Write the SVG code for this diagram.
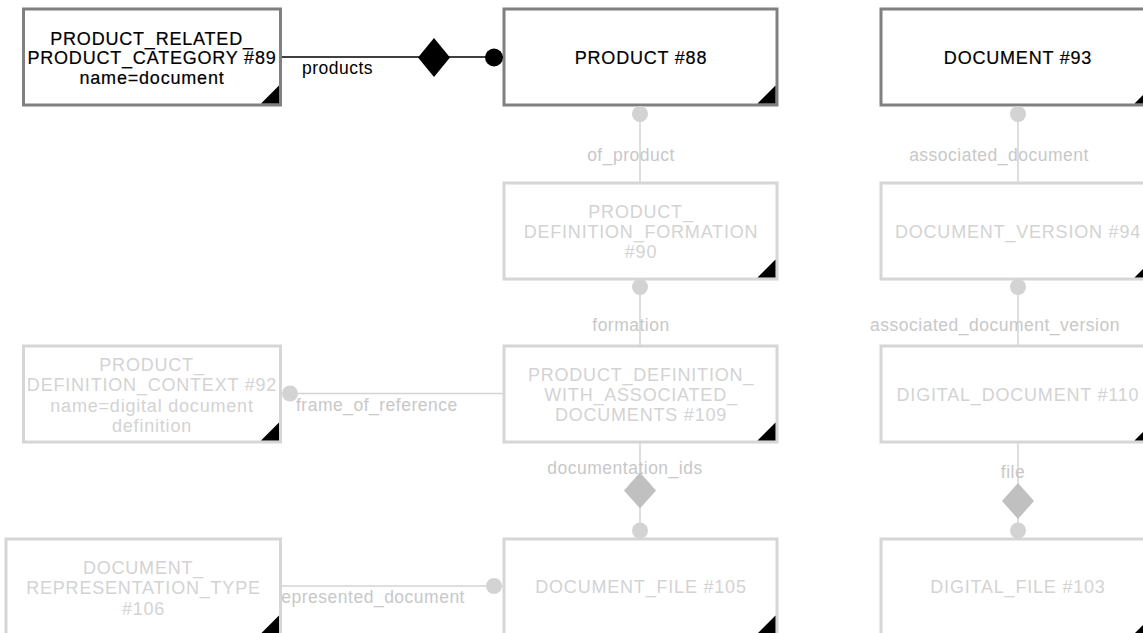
<svg xmlns="http://www.w3.org/2000/svg" width="1143" height="633" viewBox="0 0 1143 633">
<style>
.node rect{fill:#fff;stroke-width:3}
.dark rect{stroke:#808080}
.faded rect{stroke:#d6d6d6}
.corner{fill:#000}
.node text{font-family:"Liberation Sans",Arial,sans-serif;font-size:18px;letter-spacing:0.8px;text-anchor:middle}
.dark text{fill:#000;stroke:#000;stroke-width:0.2px}
.faded text{fill:#d3d3d3}
.ln{stroke:#d3d3d3;stroke-width:1.5;fill:none}
.lnb{stroke:#000;stroke-width:1.5;fill:none}
.lbl{font-family:"Liberation Sans",Arial,sans-serif;font-size:17.5px;letter-spacing:0.5px;fill:#c8c8c8}
.lblb{fill:#000}
.cg{fill:#d3d3d3}
.dg{fill:#c0c0c0}
.cb{fill:#000}
</style>
<rect width="1143" height="633" fill="#fff"/>
<g id="connectors">
  <line class="lnb" x1="281" y1="57" x2="503" y2="57"/>
  <text class="lbl lblb" x="302" y="74">products</text>
  <line class="ln" x1="640" y1="106" x2="640" y2="182"/>
  <text class="lbl" x="631" y="161" text-anchor="middle">of_product</text>
  <line class="ln" x1="1018" y1="106" x2="1018" y2="182"/>
  <text class="lbl" x="999" y="161" text-anchor="middle">associated_document</text>
  <line class="ln" x1="640" y1="280" x2="640" y2="346"/>
  <text class="lbl" x="631" y="331" text-anchor="middle">formation</text>
  <line class="ln" x1="1018" y1="280" x2="1018" y2="346"/>
  <text class="lbl" x="995" y="331" text-anchor="middle">associated_document_version</text>
  <line class="ln" x1="281" y1="393.5" x2="503" y2="393.5"/>
  <text class="lbl" x="296" y="411">frame_of_reference</text>
  <line class="ln" x1="640" y1="442" x2="640" y2="530"/>
  <text class="lbl" x="625" y="474" text-anchor="middle">documentation_ids</text>
  <line class="ln" x1="1018" y1="442" x2="1018" y2="530"/>
  <text class="lbl" x="1013" y="478" text-anchor="middle">file</text>
  <line class="ln" x1="281" y1="586" x2="503" y2="586"/>
  <text class="lbl" x="275" y="603">represented_document</text>
</g>
<g id="node89" class="node dark">
  <rect x="23.5" y="9" width="257" height="96"/>
  <polygon class="corner" points="261,103.5 279,103.5 279,85.5"/>
  <text x="152" y="44.5">PRODUCT_RELATED_</text>
  <text x="152" y="64">PRODUCT_CATEGORY #89</text>
  <text x="152" y="83.5">name=document</text>
</g>
<g id="node88" class="node dark">
  <rect x="504" y="9" width="273" height="96"/>
  <polygon class="corner" points="757.5,103.5 775.5,103.5 775.5,85.5"/>
  <text x="641" y="63.5">PRODUCT #88</text>
</g>
<g id="node93" class="node dark">
  <rect x="881" y="9" width="273" height="96"/>
  <polygon class="corner" points="1134.5,103.5 1152.5,103.5 1152.5,85.5"/>
  <text x="1018" y="63.5">DOCUMENT #93</text>
</g>
<g id="node90" class="node faded">
  <rect x="504" y="183" width="273" height="96"/>
  <polygon class="corner" points="757.5,277.5 775.5,277.5 775.5,259.5"/>
  <text x="641" y="217.5">PRODUCT_</text>
  <text x="641" y="237.5">DEFINITION_FORMATION</text>
  <text x="641" y="257.5">#90</text>
</g>
<g id="node94" class="node faded">
  <rect x="881" y="183" width="273" height="96"/>
  <polygon class="corner" points="1134.5,277.5 1152.5,277.5 1152.5,259.5"/>
  <text x="1018" y="237.5">DOCUMENT_VERSION #94</text>
</g>
<g id="node92" class="node faded">
  <rect x="23.5" y="346" width="257" height="96"/>
  <polygon class="corner" points="261,440.5 279,440.5 279,422.5"/>
  <text x="152" y="370.5">PRODUCT_</text>
  <text x="152" y="391">DEFINITION_CONTEXT #92</text>
  <text x="152" y="411.5">name=digital document</text>
  <text x="152" y="432">definition</text>
</g>
<g id="node109" class="node faded">
  <rect x="504" y="346" width="273" height="96"/>
  <polygon class="corner" points="757.5,440.5 775.5,440.5 775.5,422.5"/>
  <text x="641" y="380.5">PRODUCT_DEFINITION_</text>
  <text x="641" y="400.5">WITH_ASSOCIATED_</text>
  <text x="641" y="420.5">DOCUMENTS #109</text>
</g>
<g id="node110" class="node faded">
  <rect x="881" y="346" width="273" height="96"/>
  <polygon class="corner" points="1134.5,440.5 1152.5,440.5 1152.5,422.5"/>
  <text x="1018" y="400.5">DIGITAL_DOCUMENT #110</text>
</g>
<g id="node106" class="node faded">
  <rect x="6" y="539" width="274.5" height="96"/>
  <polygon class="corner" points="261,633.5 279,633.5 279,615.5"/>
  <text x="143.5" y="573.5">DOCUMENT_</text>
  <text x="143.5" y="594">REPRESENTATION_TYPE</text>
  <text x="143.5" y="614.5">#106</text>
</g>
<g id="node105" class="node faded">
  <rect x="504" y="539" width="273" height="96"/>
  <polygon class="corner" points="757.5,633.5 775.5,633.5 775.5,615.5"/>
  <text x="641" y="592.5">DOCUMENT_FILE #105</text>
</g>
<g id="node103" class="node faded">
  <rect x="881" y="539" width="273" height="96"/>
  <polygon class="corner" points="1134.5,633.5 1152.5,633.5 1152.5,615.5"/>
  <text x="1018" y="592.5">DIGITAL_FILE #103</text>
</g>
<g id="connector-ends">
  <polygon class="cb" points="418,57.5 434,38 450,57.5 434,77"/>
  <circle class="cb" cx="494" cy="57.5" r="9"/>
  <circle class="cg" cx="640" cy="114" r="8"/>
  <circle class="cg" cx="1018" cy="114" r="8"/>
  <circle class="cg" cx="640" cy="287" r="8"/>
  <circle class="cg" cx="1018" cy="287" r="8"/>
  <circle class="cg" cx="290" cy="393.5" r="8"/>
  <polygon class="dg" points="624,490.5 640,472.5 656,490.5 640,508.5"/>
  <circle class="cg" cx="640" cy="530.5" r="8"/>
  <polygon class="dg" points="1002,501 1018,483 1034,501 1018,519"/>
  <circle class="cg" cx="1018" cy="530.5" r="8"/>
  <circle class="cg" cx="494" cy="586" r="8"/>
</g>
</svg>
